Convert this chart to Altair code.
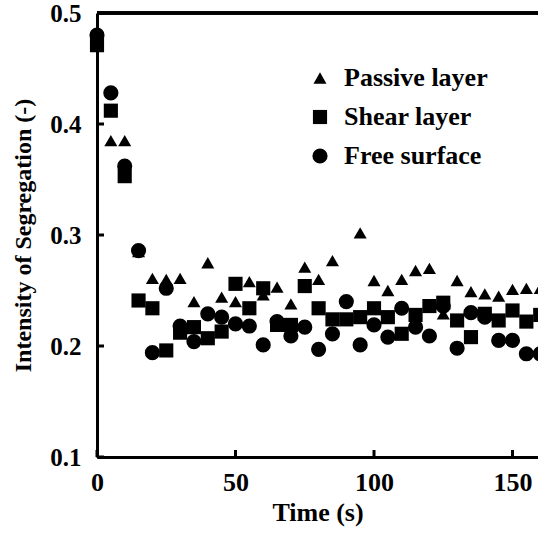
import altair as alt
import pandas as pd

time_s = list(range(0, 165, 5))
passive = [0.478, 0.385, 0.385, 0.285, 0.261, 0.260, 0.261, 0.240, 0.275, 0.244,
           0.240, 0.258, 0.246, 0.253, 0.238, 0.271, 0.260, 0.277, 0.241, 0.302,
           0.259, 0.250, 0.260, 0.268, 0.270, 0.229, 0.259, 0.249, 0.247, 0.245,
           0.251, 0.252, 0.252]
shear = [0.471, 0.412, 0.353, 0.241, 0.234, 0.196, 0.212, 0.217, 0.207, 0.213,
         0.256, 0.234, 0.252, 0.219, 0.219, 0.254, 0.234, 0.224, 0.224, 0.226,
         0.234, 0.226, 0.211, 0.228, 0.236, 0.239, 0.223, 0.208, 0.229, 0.223,
         0.232, 0.222, 0.228]
free = [0.480, 0.428, 0.362, 0.286, 0.194, 0.252, 0.218, 0.204, 0.229, 0.226,
        0.220, 0.218, 0.201, 0.222, 0.209, 0.217, 0.197, 0.211, 0.240, 0.201,
        0.219, 0.208, 0.234, 0.217, 0.209, 0.236, 0.198, 0.230, 0.226, 0.205,
        0.205, 0.193, 0.193]

series = ["Passive layer", "Shear layer", "Free surface"]
shapes = ["triangle-up", "square", "circle"]
sizes = [170, 230, 250]
y_ticks = [0.1, 0.2, 0.3, 0.4, 0.5]
x_ticks = [0, 50, 100, 150]

rows = []
for name, vals in zip(series, [passive, shear, free]):
    for t, v in zip(time_s, vals):
        rows.append({"Time": t, "Value": v, "Series": name})
df = pd.DataFrame(rows)

FONT = "Liberation Serif"
W, H = 441, 444

xscale = alt.Scale(domain=[0, 159.2], nice=False, zero=False)
yscale = alt.Scale(domain=[0.1, 0.5], nice=False, zero=False)

x_axis = alt.Axis(values=x_ticks, title="Time (s)", labelPadding=12, titlePadding=4,
                  labelFlush=False, labelFontSize=26, titleFontSize=26)
y_axis = alt.Axis(values=y_ticks, format=".1f", title="Intensity of Segregation (-)",
                  labelPadding=16, titlePadding=14, labelFlush=False,
                  labelFontSize=25, titleFontSize=24)

legend = alt.Legend(title=None, orient="none", legendX=210, legendY=52,
                    padding=0, symbolFillColor="black", symbolStrokeColor="black",
                    symbolStrokeWidth=0, labelFont=FONT,
                    labelFontSize=26, labelFontWeight="bold",
                    labelColor="black", labelOffset=11, rowPadding=13)

points = alt.Chart(df).mark_point(filled=True, color="black", opacity=1, clip=False).encode(
    x=alt.X("Time:Q", scale=xscale, axis=x_axis),
    y=alt.Y("Value:Q", scale=yscale, axis=y_axis),
    shape=alt.Shape("Series:N", scale=alt.Scale(domain=series, range=shapes), legend=legend),
    size=alt.Size("Series:N", scale=alt.Scale(domain=series, range=sizes), legend=legend),
)

ytick_df = pd.DataFrame({"Value": y_ticks})
xtick_df = pd.DataFrame({"Time": x_ticks})

yticks = alt.Chart(ytick_df).mark_rule(color="black", strokeWidth=3).encode(
    y=alt.Y("Value:Q", scale=yscale, axis=y_axis),
    x=alt.value(0), x2=alt.value(7),
)
xticks = alt.Chart(xtick_df).mark_rule(color="black", strokeWidth=3).encode(
    x=alt.X("Time:Q", scale=xscale, axis=x_axis),
    y=alt.value(H), y2=alt.value(H - 7),
)
top_frame = alt.Chart(ytick_df).mark_rule(color="black", strokeWidth=3).encode(
    y=alt.value(0),
)

chart = alt.layer(points, yticks, xticks, top_frame).properties(
    width=W, height=H,
    autosize=alt.AutoSizeParams(type="none"),
    padding={"left": 97, "top": 13, "right": 0, "bottom": 79},
).configure_view(stroke=None).configure_axis(
    grid=False, ticks=False, domainColor="black", domainWidth=3,
    labelFont=FONT, labelFontWeight="bold", labelColor="black",
    titleFont=FONT, titleFontWeight="bold", titleColor="black",
)

chart.save("out.html", embed_options={"renderer": "svg", "actions": False})
